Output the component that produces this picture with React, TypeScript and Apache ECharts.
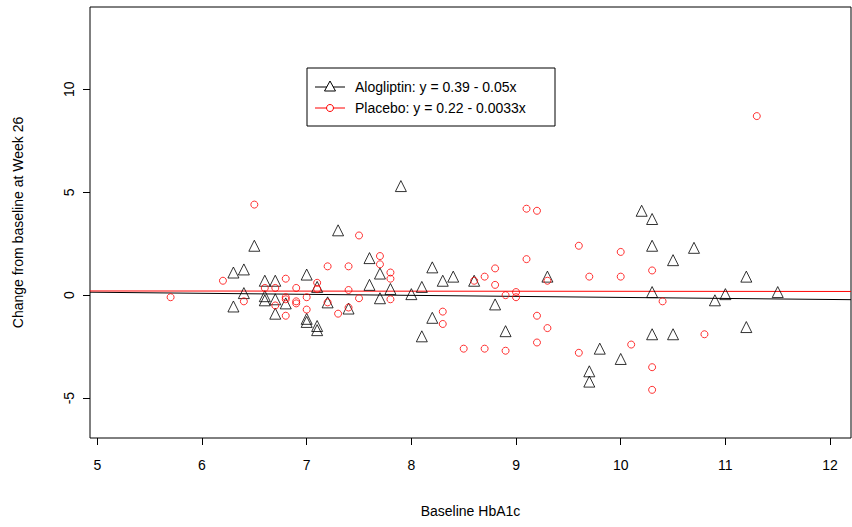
import { useEffect, useRef } from 'react';
import * as echarts from 'echarts';

const alogliptin: [number, number][] = [
  [6.3, 1.1], [6.4, 1.25], [6.3, -0.55], [6.4, 0.1], [6.5, 2.4], [6.6, 0.7], [6.7, 0.7],
  [6.6, -0.05], [6.6, -0.25], [6.7, -0.2], [6.7, -0.9], [6.8, -0.4], [7.0, 1.0], [7.0, -1.15],
  [7.0, -1.3], [7.1, 0.4], [7.1, -1.5], [7.1, -1.7], [7.2, -0.35], [7.3, 3.15], [7.4, -0.65],
  [7.6, 1.8], [7.7, 1.05], [7.6, 0.5], [7.7, -0.15], [7.8, 0.3], [8.0, 0.05], [7.9, 5.3],
  [8.2, 1.35], [8.3, 0.7], [8.4, 0.9], [8.6, 0.7], [9.3, 0.9], [8.1, 0.4], [8.8, -0.45],
  [8.2, -1.1], [8.1, -2.0], [8.9, -1.75], [9.8, -2.6], [9.7, -3.7], [9.7, -4.2], [10.0, -3.1],
  [10.2, 4.1], [10.3, 3.7], [10.3, 2.4], [10.7, 2.3], [10.5, 1.7], [11.2, 0.9], [10.3, 0.15],
  [10.9, -0.25], [11.0, 0.05], [11.5, 0.15], [11.2, -1.55], [10.3, -1.9], [10.5, -1.9],
];

const placebo: [number, number][] = [
  [5.7, -0.1], [6.2, 0.7], [6.4, -0.3], [6.5, 4.4], [6.6, 0.35], [6.7, 0.35], [6.8, 0.8],
  [6.9, 0.35], [6.8, -0.1], [6.8, -0.2], [6.9, -0.3], [6.9, -0.4], [6.7, -0.5], [6.8, -1.0],
  [7.0, -0.1], [7.0, -0.7], [7.1, 0.6], [7.1, 0.3], [7.2, 1.4], [7.2, -0.35], [7.3, -0.9],
  [7.4, 1.4], [7.4, 0.25], [7.4, -0.6], [7.5, 2.9], [7.5, -0.15], [7.7, 1.9], [7.7, 1.5],
  [7.8, 1.1], [7.8, 0.8], [7.8, -0.2], [9.1, 4.2], [9.2, 4.1], [9.6, 2.4], [9.1, 1.75],
  [8.8, 1.3], [8.7, 0.9], [8.8, 0.5], [8.6, 0.7], [9.7, 0.9], [10.0, 2.1], [10.0, 0.9],
  [8.9, 0.0], [9.0, 0.15], [9.0, -0.1], [9.3, 0.7], [8.3, -0.8], [8.3, -1.4], [9.2, -1.0],
  [9.3, -1.6], [9.2, -2.3], [8.5, -2.6], [8.7, -2.6], [8.9, -2.7], [9.6, -2.8], [10.3, 1.2],
  [10.4, -0.3], [10.8, -1.9], [10.1, -2.4], [10.3, -3.5], [10.3, -4.6], [11.3, 8.7],
];

// fitted lines: intercept, slope
const aloFit = [0.39, -0.05];
const plaFit = [0.22, -0.0033];
const xRange = [4.93, 12.2];
const yRange = [-6.94, 14.0];
const xTicks = [5, 6, 7, 8, 9, 10, 11, 12];
const yTicks = [-5, 0, 5, 10];

const font = 'Liberation Sans, Arial, sans-serif';

export default function App() {
  const ref = useRef<HTMLDivElement>(null);

  useEffect(() => {
    if (!ref.current) return;
    const chart = echarts.init(ref.current, null, { renderer: 'svg' });
    const fitLine = (f: number[]) => xRange.map((x) => [x, f[0] + f[1] * x]);
    chart.setOption({
      animation: false,
      textStyle: { fontFamily: font },
      grid: { left: 90, top: 7, right: 1, bottom: 89, show: true, borderColor: '#000', borderWidth: 1 },
      xAxis: {
        type: 'value', min: xRange[0], max: xRange[1],
        name: 'Baseline HbA1c', nameLocation: 'middle', nameGap: 66,
        nameTextStyle: { fontSize: 14, color: '#000' },
        axisLine: { show: false, onZero: false }, splitLine: { show: false },
        axisTick: { show: true, inside: false, length: 7, lineStyle: { color: '#000' }, customValues: xTicks },
        axisLabel: { fontSize: 14, color: '#000', margin: 20, customValues: xTicks },
      },
      yAxis: {
        type: 'value', min: yRange[0], max: yRange[1],
        name: 'Change from baseline at Week 26', nameLocation: 'middle', nameGap: 65,
        nameTextStyle: { fontSize: 14, color: '#000' },
        axisLine: { show: false, onZero: false }, splitLine: { show: false },
        axisTick: { show: true, length: 7, lineStyle: { color: '#000' }, customValues: yTicks },
        axisLabel: { fontSize: 14, color: '#000', rotate: 90, margin: 14, customValues: yTicks, align: 'center' },
      },
      series: [
        { type: 'line', data: fitLine(aloFit), symbol: 'none', lineStyle: { color: '#000', width: 1 }, z: 1 },
        { type: 'line', data: fitLine(plaFit), symbol: 'none', lineStyle: { color: '#ff0000', width: 1 }, z: 1 },
        {
          type: 'scatter', data: alogliptin, symbol: 'triangle', symbolSize: 11,
          itemStyle: { color: 'none', borderColor: '#000', borderWidth: 1 },
        },
        {
          type: 'scatter', data: placebo, symbol: 'circle', symbolSize: 7,
          itemStyle: { color: 'none', borderColor: '#ff0000', borderWidth: 1 },
        },
      ],
      graphic: [
        { type: 'rect', shape: { x: 307, y: 68, width: 248, height: 58 }, style: { fill: '#fff', stroke: '#000', lineWidth: 1 } },
        { type: 'line', shape: { x1: 315, y1: 87, x2: 345, y2: 87 }, style: { stroke: '#000', lineWidth: 1 } },
        { type: 'polygon', shape: { points: [[330, 81], [324.5, 91], [335.5, 91]] }, style: { fill: '#fff', stroke: '#000', lineWidth: 1 } },
        { type: 'text', x: 355, y: 87, style: { text: 'Alogliptin: y = 0.39 - 0.05x', fontSize: 14, fontFamily: font, fill: '#000', verticalAlign: 'middle' } },
        { type: 'line', shape: { x1: 315, y1: 108, x2: 345, y2: 108 }, style: { stroke: '#ff0000', lineWidth: 1 } },
        { type: 'circle', shape: { cx: 330, cy: 108, r: 3.5 }, style: { fill: '#fff', stroke: '#ff0000', lineWidth: 1 } },
        { type: 'text', x: 355, y: 108, style: { text: 'Placebo: y = 0.22 - 0.0033x', fontSize: 14, fontFamily: font, fill: '#000', verticalAlign: 'middle' } },
      ],
    });
    return () => chart.dispose();
  }, []);

  return <div ref={ref} style={{ position: 'fixed', left: 0, top: 0, width: 852, height: 527, background: '#fff' }} />;
}
